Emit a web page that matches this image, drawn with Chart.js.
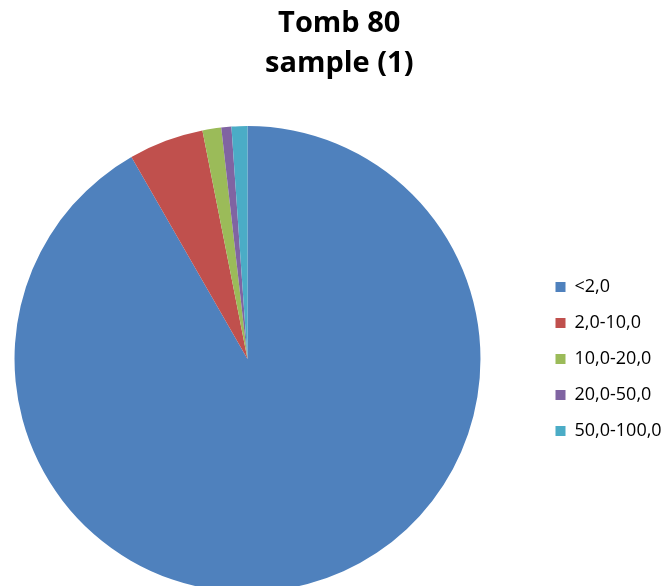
<!DOCTYPE html>
<html>
<head>
<meta charset="utf-8">
<title>Tomb 80 sample (1)</title>
<script src="https://cdn.jsdelivr.net/npm/chart.js@4.4.1/dist/chart.umd.min.js"></script>
<style>
    html, body { margin: 0; padding: 0; background: #fff; overflow: hidden; }
    #wrap { width: 664px; height: 600px; }
</style>
</head>
<body>
<div id="wrap">
    <canvas id="grain-chart" width="664" height="600"></canvas>
</div>
<script>
// Grain size classes and their share of the sample (%)
const sizeClasses = ['<2,0', '2,0-10,0', '10,0-20,0', '20,0-50,0', '50,0-100,0'];
const shares = [91.7, 5.2, 1.3, 0.7, 1.1];
const sliceColors = ['#4F81BD', '#C0504D', '#9BBB59', '#8064A2', '#4BACC6'];
const titleLines = ['Tomb 80', 'sample (1)'];

const FONT = "'Open Sans', 'DejaVu Sans', sans-serif";
const LEGEND_WIDTH = 183.5;   // space kept on the right for the legend
const LEGEND_LEFT = 537.5;    // where the legend column starts

// Keep the legend column far to the right and centred on the pie
const legendSpacing = {
    id: 'legendSpacing',
    beforeInit: function(chart) {
        const legend = chart.legend;
        const fit = legend.fit;
        legend.fit = function() {
            fit.call(this);
            this.width = LEGEND_WIDTH;
        };
    },
    afterLayout: function(chart) {
        const legend = chart.legend;
        legend.left = LEGEND_LEFT;
        legend.top = chart.chartArea.top;
        legend.bottom = chart.chartArea.bottom;
    }
};

const ctx = document.getElementById('grain-chart');
new Chart(ctx, {
    type: 'pie',
    data: {
        labels: sizeClasses,
        datasets: [{
            data: shares,
            backgroundColor: sliceColors,
            borderWidth: 0
        }]
    },
    options: {
        responsive: false,
        animation: false,
        devicePixelRatio: 1,
        layout: {
            padding: { left: 14.5, right: 0, top: 0, bottom: 8 }
        },
        plugins: {
            title: {
                display: true,
                text: titleLines,
                color: '#000',
                font: { family: FONT, size: 29, weight: 'bold', lineHeight: 1.38 },
                padding: { top: 4, bottom: 42 }
            },
            legend: {
                position: 'right',
                labels: {
                    color: '#000',
                    boxWidth: 10,
                    boxHeight: 10,
                    padding: 18,
                    font: { family: FONT, size: 18 }
                }
            },
            tooltip: { enabled: false }
        }
    },
    plugins: [legendSpacing]
});
</script>
</body>
</html>
